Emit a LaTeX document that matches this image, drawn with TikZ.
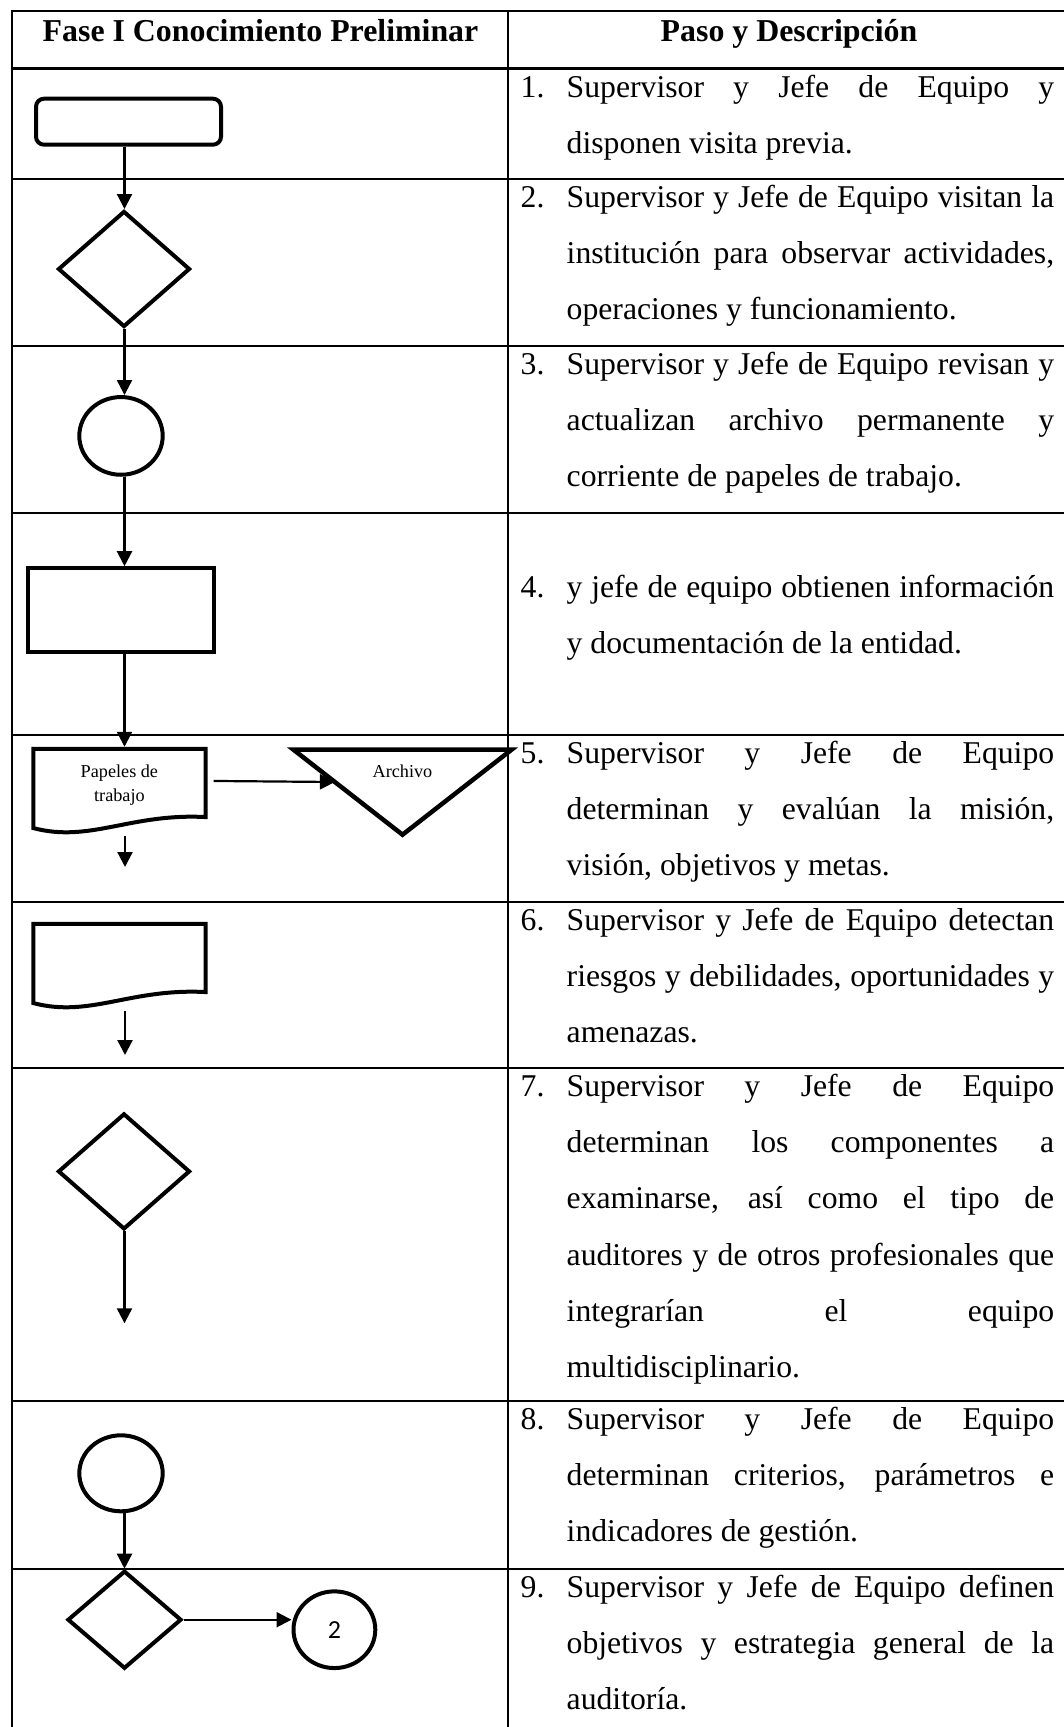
\documentclass[tikz,border=0pt]{standalone}
\usepackage{fontspec}
\setmainfont{Liberation Serif}
\newfontfamily\calfont{Carlito}
\usetikzlibrary{shapes.geometric,arrows.meta,calc}
\newcommand\jus[1]{\makebox[487.5pt][s]{#1}}
\newcommand\docpath[1]{%
  \draw[shpline] ($(#1.south east)+(0,-16)$) -- (#1.north east) -- (#1.north west) -- ($(#1.south west)+(0,-5)$)
    .. controls ($(#1.south west)+(56.8,10)$) and ($(#1.south west)+(96.8,-20)$) .. ($(#1.south east)+(0,-16)$) -- cycle;}
\tikzset{
  rule/.style={line width=2.2pt, line cap=rect},
  shp/.style={draw, line width=4pt, inner sep=0pt},
  shpline/.style={line width=4pt, line join=miter},
  rrect/.style={shp, rectangle, rounded corners=8pt, minimum width=185pt, minimum height=46pt},
  prect/.style={shp, rectangle, minimum width=186pt, minimum height=84pt},
  dec/.style={shp, diamond},
  onpage/.style={shp, ellipse},
  docnode/.style={rectangle, inner sep=0pt, outer sep=0pt, minimum width=172.3pt, minimum height=84.3pt},
  trinode/.style={rectangle, inner sep=0pt, outer sep=0pt, minimum width=218pt, minimum height=85pt},
  conn/.style={line width=2.2pt, -{Triangle[length=15pt,width=15pt]}},
  body/.style={font=\fontsize{31.7}{38}\selectfont, inner sep=0pt, anchor=base west},
  head/.style={font=\fontsize{31.85}{38}\selectfont\bfseries, inner sep=0pt, anchor=base},
  small/.style={font=\fontsize{18.2}{22}\selectfont, inner sep=0pt, anchor=base},
}
\begin{document}
\begin{tikzpicture}[x=1pt,y=-1pt]
\useasboundingbox (0,0) rectangle (1064,1727);
\fill[white] (0,0) rectangle (1064,1727);
\begin{scope}
\clip (0,0) rectangle (1064,1727);
% table rules
\foreach \yy in {11,68.5,179,346,513,735,902,1068,1401,1569}
  \draw[rule] (12,\yy) -- (1075,\yy);
\draw[rule] (12,11) -- (12,1740);
\draw[rule] (508,11) -- (508,1740);

% headers
\node[head] (h1) at (260.5,41) {Fase I Conocimiento Preliminar};
\node[head] (h2) at (789,41) {Paso y Descripción};

% right column text
\node[body] (n1) at (520.5,97) {1.};
\node[body] (t1a) at (566.5,97) {\jus{Supervisor y Jefe de Equipo y}};
\node[body] (t1b) at (566.5,153.2) {disponen visita previa.};

\node[body] (n2) at (520.5,207.5) {2.};
\node[body] (t2a) at (566.5,207.5) {\jus{Supervisor y Jefe de Equipo visitan la}};
\node[body] (t2b) at (566.5,263.7) {\jus{institución para observar actividades,}};
\node[body] (t2c) at (566.5,319.9) {operaciones y funcionamiento.};

\node[body] (n3) at (520.5,374.5) {3.};
\node[body] (t3a) at (566.5,374.5) {\jus{Supervisor y Jefe de Equipo revisan y}};
\node[body] (t3b) at (566.5,430.7) {\jus{actualizan archivo permanente y}};
\node[body] (t3c) at (566.5,486.9) {corriente de papeles de trabajo.};

\node[body] (n4) at (520.5,597.7) {4.};
\node[body] (t4a) at (566.5,597.7) {\jus{y jefe de equipo obtienen información}};
\node[body] (t4b) at (566.5,653.9) {y documentación de la entidad.};

\node[body] (n5) at (520.5,763.5) {5.};
\node[body] (t5a) at (566.5,763.5) {\jus{Supervisor y Jefe de Equipo}};
\node[body] (t5b) at (566.5,819.7) {\jus{determinan y evalúan la misión,}};
\node[body] (t5c) at (566.5,875.9) {visión, objetivos y metas.};

\node[body] (n6) at (520.5,930.5) {6.};
\node[body] (t6a) at (566.5,930.5) {\jus{Supervisor y Jefe de Equipo detectan}};
\node[body] (t6b) at (566.5,986.7) {\jus{riesgos y debilidades, oportunidades y}};
\node[body] (t6c) at (566.5,1042.9) {amenazas.};

\node[body] (n7) at (520.5,1096.5) {7.};
\node[body] (t7a) at (566.5,1096.5) {\jus{Supervisor y Jefe de Equipo}};
\node[body] (t7b) at (566.5,1152.7) {\jus{determinan los componentes a}};
\node[body] (t7c) at (566.5,1208.9) {\jus{examinarse, así como el tipo de}};
\node[body] (t7d) at (566.5,1265.1) {\jus{auditores y de otros profesionales que}};
\node[body] (t7e) at (566.5,1321.3) {\jus{integrarían el equipo}};
\node[body] (t7f) at (566.5,1377.5) {multidisciplinario.};

\node[body] (n8) at (520.5,1429.5) {8.};
\node[body] (t8a) at (566.5,1429.5) {\jus{Supervisor y Jefe de Equipo}};
\node[body] (t8b) at (566.5,1485.7) {\jus{determinan criterios, parámetros e}};
\node[body] (t8c) at (566.5,1541.9) {indicadores de gestión.};

\node[body] (n9) at (520.5,1597.5) {9.};
\node[body] (t9a) at (566.5,1597.5) {\jus{Supervisor y Jefe de Equipo definen}};
\node[body] (t9b) at (566.5,1653.7) {\jus{objetivos y estrategia general de la}};
\node[body] (t9c) at (566.5,1709.9) {auditoría.};

% flow shapes
\coordinate (colx) at (124.5,0);
\node[rrect] (start) at (128.5,121.7) {};
\node[dec, minimum width=132pt, minimum height=116pt] (dia1) at (124,269) {};
\node[onpage, minimum width=83.4pt, minimum height=77.7pt] (circ1) at (121,435.9) {};
\node[prect] (rect2) at (121,610.2) {};
\node[docnode] (doc1) at (119.4,790.9) {};
\docpath{doc1}
\node[small] (p1) at (119.4,777) {Papeles de};
\node[small] (p2) at (119.4,801.7) {trabajo};
\node[trinode] (arch) at (402.5,792.2) {};
\draw[shpline, line width=4.5pt] (arch.north west) -- (arch.north east) -- (arch.south) -- cycle;
\node[small] (archtxt) at (402.5,777) {Archivo};
\coordinate (archin) at ($(arch.north west)!0.38!(arch.south)$);
\node[docnode] (doc2) at (119.4,965.9) {};
\docpath{doc2}
\node[dec, minimum width=132pt, minimum height=116pt] (dia2) at (124,1171.4) {};
\node[onpage, minimum width=83.4pt, minimum height=76pt] (circ2) at (121,1473.3) {};
\node[dec, minimum width=114pt, minimum height=98pt] (dia3) at (124.5,1619.7) {};
\node[onpage, minimum width=81.8pt, minimum height=76.7pt, font=\fontsize{26}{30}\selectfont\calfont] (circ3) at (334.4,1629.7) {2};

\coordinate (d1end) at (125,867);
\coordinate (d2end) at (125,1055);
\coordinate (d3end) at (124.5,1323.3);

% connectors
\draw[conn] (start.south -| colx) -- (dia1.north -| colx);
\draw[conn] (dia1.south -| colx) -- (circ1.north -| colx);
\draw[conn] (circ1.south -| colx) -- (rect2.north -| colx);
\draw[conn, shorten >=2pt] (rect2.south -| colx) -- (doc1.north -| colx);
\draw[conn, shorten <=8pt] ([yshift=10pt]doc1.east) -- (archin);
\draw[conn, shorten <=3pt] (doc1.south -| d1end) -- (d1end);
\draw[conn, shorten <=3pt] (doc2.south -| d2end) -- (d2end);
\draw[conn] (dia2.south -| colx) -- (d3end);
\draw[conn] (circ2.south -| colx) -- (dia3.north -| colx);
\draw[conn] (dia3.east) -- (dia3.east -| circ3.west);
\end{scope}
\end{tikzpicture}
\end{document}
